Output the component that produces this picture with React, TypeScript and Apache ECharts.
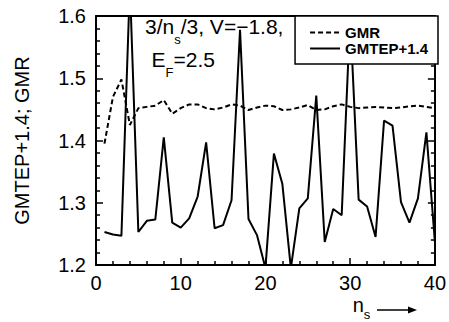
import React, { useEffect, useRef } from "react";
import * as echarts from "echarts";

const FONT = "'Liberation Sans', Arial, Helvetica, sans-serif";

const nValues = [1, 2, 3, 4, 5, 6, 7, 8, 9, 10, 11, 12, 13, 14, 15, 16, 17, 18, 19, 20, 21, 22, 23, 24, 25, 26, 27, 28, 29, 30, 31, 32, 33, 34, 35, 36, 37, 38, 39, 40];
const gmtep = [1.253, 1.249, 1.247, 1.65, 1.253, 1.271, 1.273, 1.405, 1.268, 1.26, 1.275, 1.31, 1.397, 1.259, 1.264, 1.304, 1.578, 1.274, 1.248, 1.195, 1.379, 1.33, 1.195, 1.291, 1.307, 1.472, 1.237, 1.29, 1.28, 1.6, 1.305, 1.294, 1.245, 1.432, 1.424, 1.301, 1.268, 1.307, 1.413, 1.237];
const gmr = [1.395, 1.47, 1.498, 1.425, 1.452, 1.454, 1.456, 1.465, 1.443, 1.452, 1.458, 1.458, 1.452, 1.45, 1.453, 1.458, 1.456, 1.449, 1.453, 1.456, 1.455, 1.449, 1.45, 1.453, 1.457, 1.449, 1.45, 1.455, 1.458, 1.454, 1.452, 1.453, 1.454, 1.453, 1.452, 1.453, 1.455, 1.456, 1.454, 1.452];

const seriesNames = ["GMR", "GMTEP+1.4"];
const yAxisTitle = "GMTEP+1.4; GMR";

export default function App() {
  const ref = useRef<HTMLDivElement>(null);
  useEffect(() => {
    const chart = echarts.init(ref.current!, null, { renderer: "svg" });
    const axisLine = { show: true, onZero: false, lineStyle: { color: "#000", width: 2 } };
    const labelStyle = { color: "#000", fontSize: 20, fontFamily: FONT };
    const tick = { show: true, inside: true, length: 7, lineStyle: { color: "#000", width: 1.5 } };
    const minor = { show: true, splitNumber: 5, length: 4, lineStyle: { color: "#000", width: 1.5 } };
    const subRich = (size: number, pad: number) => ({
      m: { fontSize: size, lineHeight: size, fontFamily: FONT, fill: "#000", verticalAlign: "top" },
      s: { fontSize: 13, lineHeight: 13, fontFamily: FONT, fill: "#000", verticalAlign: "top", padding: [pad, 0, 0, 0] },
    });
    chart.setOption({
      animation: false,
      backgroundColor: "#fff",
      grid: { left: 96, right: 9, top: 16, bottom: 57 },
      legend: {
        data: seriesNames,
        orient: "vertical",
        right: 11,
        top: 16,
        itemWidth: 30,
        itemHeight: 14,
        itemGap: 1,
        padding: [9, 10, 8, 14],
        borderColor: "#000",
        borderWidth: 1.5,
        backgroundColor: "#fff",
        itemStyle: { opacity: 0 },
        textStyle: { color: "#000", fontSize: 15, fontWeight: "bold", fontFamily: FONT },
      },
      xAxis: [
        {
          type: "value",
          min: 0,
          max: 40,
          interval: 10,
          axisLine,
          axisTick: tick,
          minorTick: minor,
          splitLine: { show: false },
          axisLabel: { ...labelStyle, margin: 8 },
        },
        {
          type: "value",
          position: "top",
          min: 0,
          max: 40,
          interval: 10,
          axisLine,
          axisTick: { show: false },
          axisLabel: { show: false },
          splitLine: { show: false },
        },
      ],
      yAxis: [
        {
          type: "value",
          min: 1.2,
          max: 1.6,
          interval: 0.1,
          axisLine,
          axisTick: tick,
          minorTick: minor,
          splitLine: { show: false },
          axisLabel: { ...labelStyle, margin: 10, formatter: (v: number) => v.toFixed(1) },
          name: yAxisTitle,
          nameLocation: "middle",
          nameGap: 64,
          nameTextStyle: { color: "#000", fontSize: 20, fontFamily: FONT },
        },
        {
          type: "value",
          position: "right",
          min: 1.2,
          max: 1.6,
          interval: 0.1,
          axisLine,
          axisTick: tick,
          minorTick: minor,
          splitLine: { show: false },
          axisLabel: { show: false },
        },
      ],
      graphic: [
        {
          type: "text",
          x: 145,
          y: 16,
          style: { text: "{m|3/n}{s|s}{m|/3, V=\u22121.8,}", rich: subRich(21, 17), verticalAlign: "top", align: "left", fill: "#000" },
        },
        {
          type: "text",
          x: 151.5,
          y: 49,
          style: { text: "{m|E}{s|F}{m|=2.5}", rich: subRich(21, 16.5), verticalAlign: "top", align: "left", fill: "#000" },
        },
        {
          type: "text",
          x: 352.7,
          y: 295,
          style: { text: "{m|n}{s|s}", rich: subRich(20, 13), verticalAlign: "top", align: "left", fill: "#000" },
        },
        {
          type: "line",
          shape: { x1: 377, y1: 310, x2: 411, y2: 310 },
          style: { stroke: "#000", lineWidth: 1.5 },
        },
        {
          type: "polygon",
          shape: { points: [[417, 310], [408, 306.5], [408, 313.5]] },
          style: { fill: "#000" },
        },
      ],
      series: [
        {
          name: seriesNames[0],
          type: "line",
          data: nValues.map((n, i) => [n, gmr[i]]),
          symbol: "none",
          color: "#000",
          lineStyle: { color: "#000", width: 2, type: [5, 3] },
        },
        {
          name: seriesNames[1],
          type: "line",
          data: nValues.map((n, i) => [n, gmtep[i]]),
          symbol: "none",
          color: "#000",
          lineStyle: { color: "#000", width: 2 },
        },
      ],
    });
    return () => chart.dispose();
  }, []);
  return <div ref={ref} style={{ position: "absolute", left: 0, top: 0, width: 449, height: 322, background: "#fff" }} />;
}
